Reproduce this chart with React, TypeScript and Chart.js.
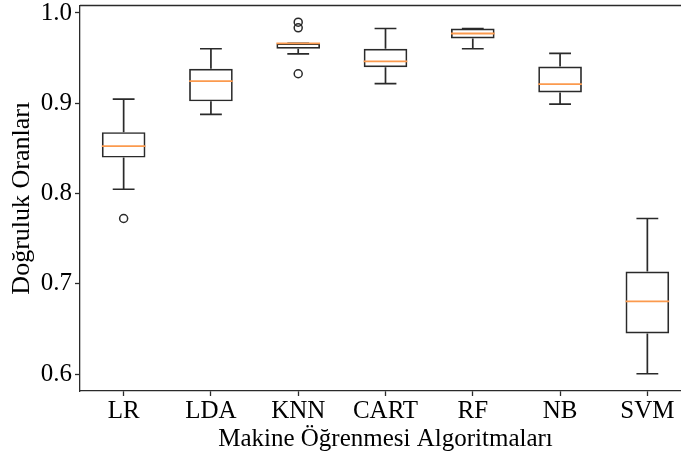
import React, { useEffect, useRef } from "react";
import { Chart, registerables } from "chart.js";

Chart.register(...registerables);

const categories = ["LR", "LDA", "KNN", "CART", "RF", "NB", "SVM"];
const whiskerLow = [0.8047, 0.8877, 0.9548, 0.9217, 0.9604, 0.8991, 0.6003];
const q1 = [0.8398, 0.9021, 0.9604, 0.94, 0.9718, 0.912, 0.645];
const median = [0.8526, 0.9246, 0.9663, 0.9463, 0.9773, 0.9212, 0.6804];
const q3 = [0.868, 0.9382, 0.9663, 0.9604, 0.9828, 0.9408, 0.7136];
const whiskerHigh = [0.9046, 0.9604, 0.9663, 0.9828, 0.9828, 0.9552, 0.7723];
const outlierCats = ["LR", "KNN", "KNN", "KNN"];
const outlierVals = [0.7723, 0.9898, 0.9836, 0.9327];
const yTicks = [0.6, 0.7, 0.8, 0.9, 1.0];
const yMin = 0.5812;
const yMax = 1.0083;
const xTitle = "Makine Öğrenmesi Algoritmaları";
const yTitle = "Doğruluk Oranları";

const LINE = "#2a2a2a";
const ORANGE = "#fb9a4e";
const FONT = "'Liberation Serif', 'Times New Roman', serif";

const boxPlugin = {
  id: "boxExtras",
  afterDatasetsDraw(chart: any) {
    const ctx = chart.ctx;
    const y = chart.scales.y;
    const meta = chart.getDatasetMeta(0);
    ctx.save();
    meta.data.forEach((bar: any, i: number) => {
      const x = bar.x;
      const half = bar.width / 2;
      ctx.strokeStyle = LINE;
      ctx.lineWidth = 1.7;
      ctx.beginPath();
      ctx.moveTo(x, y.getPixelForValue(q3[i]));
      ctx.lineTo(x, y.getPixelForValue(whiskerHigh[i]));
      ctx.moveTo(x, y.getPixelForValue(q1[i]));
      ctx.lineTo(x, y.getPixelForValue(whiskerLow[i]));
      ctx.moveTo(x - half / 2, y.getPixelForValue(whiskerHigh[i]));
      ctx.lineTo(x + half / 2, y.getPixelForValue(whiskerHigh[i]));
      ctx.moveTo(x - half / 2, y.getPixelForValue(whiskerLow[i]));
      ctx.lineTo(x + half / 2, y.getPixelForValue(whiskerLow[i]));
      ctx.stroke();
      ctx.strokeStyle = ORANGE;
      ctx.lineWidth = 1.8;
      ctx.beginPath();
      ctx.moveTo(x - half, y.getPixelForValue(median[i]));
      ctx.lineTo(x + half, y.getPixelForValue(median[i]));
      ctx.stroke();
    });
    const a = chart.chartArea;
    ctx.strokeStyle = LINE;
    ctx.lineWidth = 1.3;
    ctx.beginPath();
    ctx.moveTo(a.left, a.top);
    ctx.lineTo(a.right, a.top);
    ctx.lineTo(a.right, a.bottom);
    ctx.stroke();
    ctx.restore();
  },
};

export default function App() {
  const ref = useRef<HTMLCanvasElement>(null);
  useEffect(() => {
    if (!ref.current) return;
    const chart = new Chart(ref.current, {
      type: "bar",
      data: {
        labels: categories,
        datasets: [
          {
            type: "bar",
            data: categories.map((_, i) => [q1[i], q3[i]]),
            backgroundColor: "rgba(0,0,0,0)",
            borderColor: LINE,
            borderWidth: 1.7,
            borderSkipped: false,
            barPercentage: 0.5,
            categoryPercentage: 1,
          } as any,
          {
            type: "line",
            data: outlierCats.map((c, i) => ({ x: c, y: outlierVals[i] })),
            showLine: false,
            pointRadius: 4,
            pointBackgroundColor: "rgba(0,0,0,0)",
            pointBorderColor: LINE,
            pointBorderWidth: 1.5,
          } as any,
        ],
      },
      options: {
        responsive: false,
        animation: false,
        layout: { padding: { left: 0, right: 9, top: 5, bottom: 0 } },
        plugins: { legend: { display: false }, tooltip: { enabled: false } },
        scales: {
          x: {
            type: "category",
            offset: true,
            afterFit: (s: any) => {
              s.height = 68;
              s.paddingLeft = 0;
              s.paddingRight = 0;
            },
            grid: {
              offset: false,
              drawOnChartArea: false,
              drawTicks: true,
              tickLength: 5,
              tickColor: LINE,
              tickWidth: 1.3,
            },
            border: { display: true, color: LINE, width: 1.3 },
            ticks: { color: "#000", font: { family: FONT, size: 25 }, padding: 0, maxRotation: 0 },
            title: {
              display: true,
              text: xTitle,
              color: "#000",
              font: { family: FONT, size: 25 },
              padding: { top: 0, bottom: 5 },
            },
          },
          y: {
            type: "linear",
            min: yMin,
            max: yMax,
            afterFit: (s: any) => {
              s.width = 80;
              s.paddingTop = 0;
              s.paddingBottom = 0;
            },
            afterBuildTicks: (s: any) => {
              s.ticks = yTicks.map((v) => ({ value: v }));
            },
            grid: {
              drawOnChartArea: false,
              drawTicks: true,
              tickLength: 5,
              tickColor: LINE,
              tickWidth: 1.3,
            },
            border: { display: true, color: LINE, width: 1.3 },
            ticks: {
              color: "#000",
              font: { family: FONT, size: 25 },
              padding: 3,
              callback: (v: any) => Number(v).toFixed(1),
            },
            title: {
              display: true,
              text: yTitle,
              color: "#000",
              font: { family: FONT, size: 26 },
              padding: { top: 7, bottom: 0 },
            },
          },
        },
      },
      plugins: [boxPlugin],
    });
    return () => chart.destroy();
  }, []);
  return (
    <div style={{ position: "fixed", left: 0, top: 0, width: 681, height: 459, overflow: "hidden", background: "#fff" }}>
      <canvas ref={ref} width={700} height={459} style={{ display: "block" }} />
    </div>
  );
}
